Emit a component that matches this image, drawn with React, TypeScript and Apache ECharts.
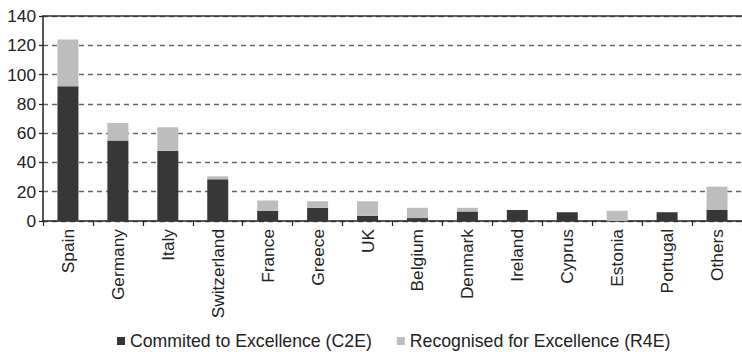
import React, { useEffect, useRef } from "react";
import * as echarts from "echarts";

const categories = ["Spain", "Germany", "Italy", "Switzerland", "France", "Greece", "UK", "Belgium", "Denmark", "Ireland", "Cyprus", "Estonia", "Portugal", "Others"];
const c2eValues = [92, 55, 48, 28.5, 7, 9, 3.5, 2, 6.5, 7.5, 6, 0, 6, 7.5];
const r4eValues = [32, 12, 16, 2, 7, 4.5, 10, 7, 2.5, 0, 0, 7, 0, 16];
const yTicks = { min: 0, max: 140, interval: 20 };

const FONT = "'Liberation Sans', Arial, sans-serif";
const TEXT = "#222222";

export default function App() {
  const ref = useRef<HTMLDivElement>(null);
  useEffect(() => {
    document.body.style.margin = "0";
    const chart = echarts.init(ref.current!, null, { renderer: "svg" });
    chart.setOption({
      animation: false,
      backgroundColor: "#ffffff",
      textStyle: { fontFamily: FONT, color: TEXT },
      grid: { left: 43, top: 16, width: 709, height: 205, containLabel: false },
      legend: {
        left: 117,
        top: 332,
        padding: 0,
        itemWidth: 8,
        itemHeight: 8,
        itemGap: 25,
        icon: "rect",
        textStyle: { fontFamily: FONT, fontSize: 17.7, lineHeight: 17, color: TEXT, padding: [0, 0, 0, 0] },
        data: ["Commited to Excellence (C2E)", "Recognised for Excellence (R4E)"],
      },
      xAxis: [
        {
          type: "category",
          data: categories,
          position: "bottom",
          axisLine: { show: true, lineStyle: { color: TEXT, width: 1.5 } },
          axisTick: { show: true, length: 5, lineStyle: { color: TEXT, width: 1.2 } },
          axisLabel: { rotate: 90, margin: 8, fontSize: 17.3, color: TEXT, fontFamily: FONT, interval: 0 },
        },
        {
          type: "category",
          data: categories,
          position: "top",
          axisLine: { show: true, lineStyle: { color: "#333", width: 1.5 } },
          axisTick: { show: false },
          axisLabel: { show: false },
        },
      ],
      yAxis: {
        type: "value",
        min: yTicks.min,
        max: yTicks.max,
        interval: yTicks.interval,
        axisLine: { show: true, lineStyle: { color: TEXT, width: 1.5 } },
        axisTick: { show: true, length: 4, lineStyle: { color: TEXT, width: 1.2 } },
        axisLabel: { margin: 7, fontSize: 17.3, color: TEXT, fontFamily: FONT },
        splitLine: { show: true, lineStyle: { color: "#666", width: 1.3, type: [5, 4] } },
      },
      series: [
        {
          name: "Commited to Excellence (C2E)",
          type: "bar",
          stack: "total",
          barWidth: 21,
          data: c2eValues,
          itemStyle: { color: "#373737" },
        },
        {
          name: "Recognised for Excellence (R4E)",
          type: "bar",
          stack: "total",
          barWidth: 21,
          data: r4eValues,
          itemStyle: { color: "#bdbdbd" },
        },
      ],
    });
    return () => chart.dispose();
  }, []);
  return <div ref={ref} style={{ width: 742, height: 352 }} />;
}
